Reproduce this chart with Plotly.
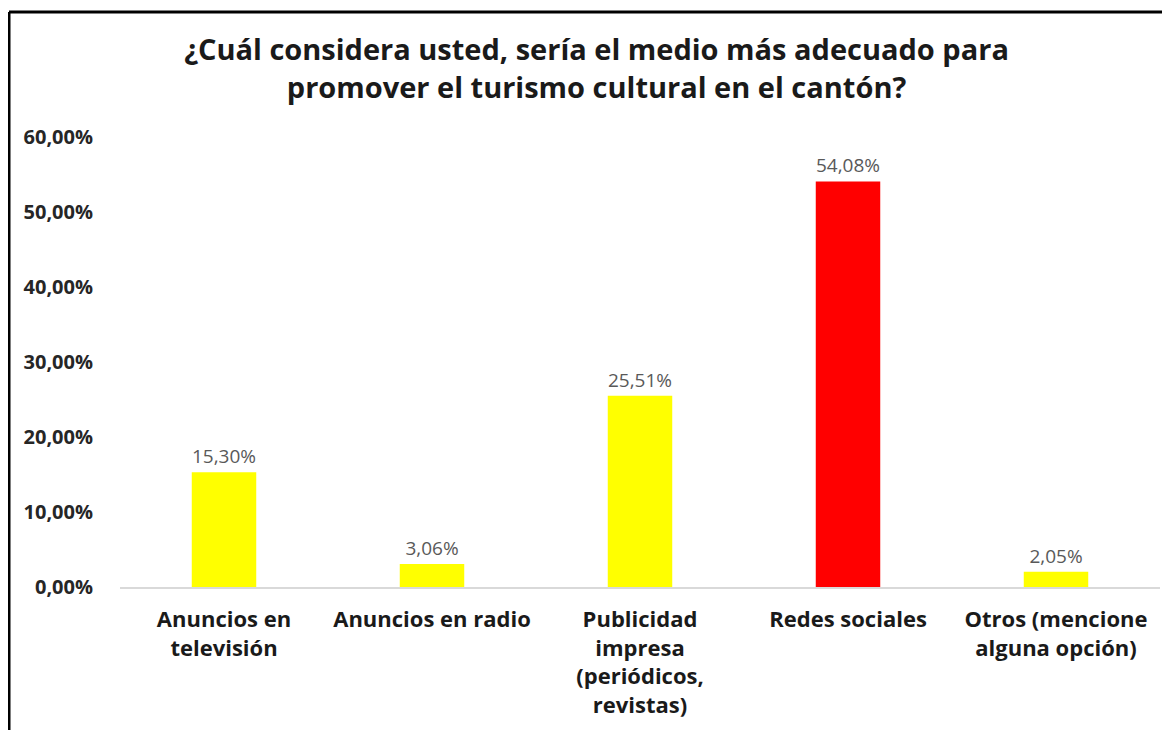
import plotly.graph_objects as go

categorias = ["Anuncios en<br>televisión", "Anuncios en radio",
              "Publicidad<br>impresa<br>(periódicos,<br>revistas)",
              "Redes sociales", "Otros (mencione<br>alguna opción)"]
porcentajes = [0.1530, 0.0306, 0.2551, 0.5408, 0.0205]
colores = ["#FFFF00", "#FFFF00", "#FFFF00", "#FF0000", "#FFFF00"]
titulo = "¿Cuál considera usted, sería el medio más adecuado para<br>promover el turismo cultural en el cantón?"

fig = go.Figure(go.Bar(
    x=categorias, y=porcentajes,
    marker=dict(color=colores, line=dict(width=0)),
    texttemplate="%{y:.2%}", textposition="outside",
    textfont=dict(family="Open Sans", size=19, color="#595959"),
    cliponaxis=False,
))

# la página deja 8px de margen, así que el lienzo se achica para no desbordar
W, H = 1154, 722
ml, mr, mt, mb = 112, 2, 129, 143
pw, ph = W - ml - mr, H - mt - mb

def px_x(v):
    return (v - ml) / pw

def px_y(v):
    return (H - mb - v) / ph

fig.update_layout(
    width=W, height=H,
    margin=dict(l=ml, r=mr, t=mt, b=mb),
    paper_bgcolor="white", plot_bgcolor="white",
    separators=",.",
    bargap=0.69,
    showlegend=False,
    title=dict(text=titulo, x=0.51, xanchor="center", yref="container",
               y=1 - 52 / H, yanchor="middle",
               font=dict(family="Open Sans", size=29, color="#1a1a1a", weight="bold")),
    font=dict(family="Open Sans", color="#262626"),
    shapes=[
        dict(type="line", xref="paper", yref="paper", x0=px_x(1), x1=px_x(W + 5),
             y0=px_y(4), y1=px_y(4), line=dict(color="black", width=3)),
        dict(type="line", xref="paper", yref="paper", x0=px_x(1), x1=px_x(1),
             y0=px_y(4), y1=px_y(H + 5), line=dict(color="black", width=3)),
    ],
)
fig.update_yaxes(range=[0, 0.6], dtick=0.1, tickformat=".2%", showgrid=False,
                 zeroline=False, showline=False, ticklabelstandoff=26,
                 tickfont=dict(family="Open Sans", size=20, color="#262626", weight="bold"))
fig.update_xaxes(showline=True, linecolor="#d9d9d9", linewidth=1.5, showgrid=False,
                 ticklabelstandoff=12,
                 tickfont=dict(family="Open Sans", size=22, color="#1a1a1a", weight="bold"))

fig.write_html("out.html", config={"displayModeBar": False})
